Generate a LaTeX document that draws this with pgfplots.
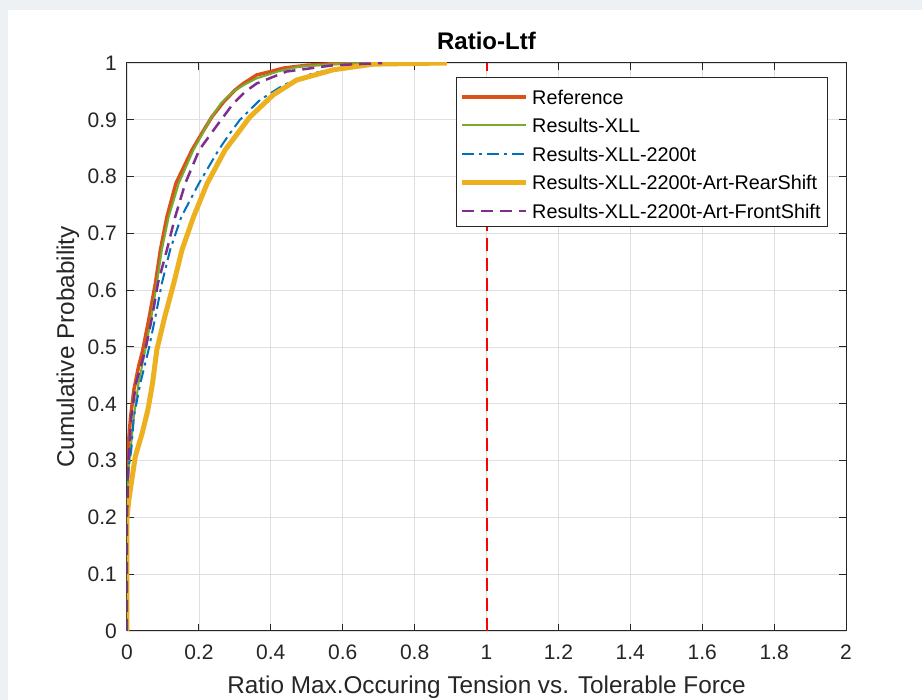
\documentclass[border=0pt]{standalone}
\usepackage{pgfplots}
\pgfplotsset{compat=1.18}
\usepackage{fontspec}
\setmainfont{Liberation Sans}
\definecolor{frame}{RGB}{238,241,243}
\definecolor{axc}{RGB}{38,38,38}
\definecolor{gridc}{RGB}{223,223,223}
\definecolor{cref}{RGB}{217,83,25}
\definecolor{cxll}{RGB}{119,172,48}
\definecolor{cblue}{RGB}{0,114,189}
\definecolor{cyel}{RGB}{237,177,32}
\definecolor{cpur}{RGB}{126,47,142}
\begin{document}
\begin{tikzpicture}[x=1pt,y=1pt]
\fill[frame] (0,0) rectangle (922,700);
\fill[white] (8,0) rectangle (922,690);
\begin{axis}[
  at={(127pt,69pt)}, anchor=south west,
  scale only axis, width=719pt, height=568pt,
  xmin=0, xmax=2, ymin=0, ymax=1,
  xtick={0,0.2,0.4,0.6,0.8,1,1.2,1.4,1.6,1.8,2},
  xticklabels={0,0.2,0.4,0.6,0.8,1,1.2,1.4,1.6,1.8,2},
  ytick={0,0.1,0.2,0.3,0.4,0.5,0.6,0.7,0.8,0.9,1},
  yticklabels={0,0.1,0.2,0.3,0.4,0.5,0.6,0.7,0.8,0.9,1},
  grid=major,
  major grid style={color=gridc, line width=0.8pt},
  axis line style={color=axc, line width=1pt},
  tick style={color=axc, line width=1pt},
  major tick length=7pt,
  tick align=inside,
  tick label style={font=\fontsize{21}{25}\selectfont, text=axc, inner sep=0pt},
  xticklabel style={yshift=-14pt},
  yticklabel style={xshift=-10pt},
  title={\textbf{Ratio-Ltf}},
  title style={at={(axis description cs:0.5,1.014)}, anchor=base, font=\fontsize{24}{28}\selectfont, inner sep=0pt},
  xlabel={Ratio Max.Occuring Tension vs. Tolerable Force},
  ylabel={Cumulative Probability},
  xlabel style={at={(axis description cs:0.5,-0.1109)}, anchor=base, font=\fontsize{24.3}{28}\selectfont, text=axc, inner sep=0pt},
  ylabel style={at={(axis description cs:-0.0737,0.5)}, anchor=base, font=\fontsize{24.3}{28}\selectfont, text=axc, inner sep=0pt},
  legend style={at={(axis description cs:0.975,0.975)}, anchor=north east,
    draw=axc, line width=1pt, fill=white, font=\fontsize{19.8}{23}\selectfont,
    row sep=0pt, inner xsep=3pt, inner ysep=3pt,
    nodes={inner xsep=4pt, inner ysep=2pt, text height=21.5pt, text depth=3pt}},
  legend cell align=left,
  legend image code/.code={\draw[#1] (0pt,-2pt) -- (64pt,-2pt);},
]
\addplot[red, line width=2pt, dash pattern=on 13pt off 7pt, forget plot] coordinates {(1,0) (1,1)};
\addplot[cref, line width=3.5pt] coordinates {
(0,0) (0,0.26) (0.004,0.33) (0.01,0.377) (0.019,0.424) (0.032,0.465) (0.044,0.495) (0.062,0.553) (0.079,0.612) (0.093,0.671) (0.111,0.729) (0.136,0.788) (0.181,0.847) (0.21,0.878) (0.236,0.905) (0.268,0.931) (0.3,0.952) (0.324,0.964) (0.361,0.979) (0.4,0.985) (0.435,0.991) (0.5,0.996) (0.58,0.999) (0.667,1.0)};
\addlegendentry{Reference}
\addplot[cxll, line width=2pt] coordinates {
(0,0) (0,0.25) (0.005,0.29) (0.01,0.319) (0.019,0.377) (0.032,0.436) (0.051,0.495) (0.068,0.553) (0.083,0.612) (0.097,0.671) (0.116,0.729) (0.144,0.788) (0.185,0.847) (0.231,0.9) (0.26,0.928) (0.296,0.95) (0.33,0.963) (0.361,0.973) (0.42,0.985) (0.48,0.994) (0.6,0.999) (0.73,1)};
\addlegendentry{Results-XLL}
\addplot[cblue, line width=2pt, dash pattern=on 12pt off 5pt on 3pt off 5pt] coordinates {
(0,0) (0,0.25) (0.005,0.29) (0.012,0.319) (0.019,0.377) (0.037,0.436) (0.06,0.495) (0.079,0.553) (0.097,0.612) (0.12,0.671) (0.151,0.729) (0.2,0.788) (0.255,0.847) (0.285,0.875) (0.314,0.9) (0.37,0.935) (0.435,0.961) (0.518,0.982) (0.62,0.994) (0.75,0.999) (0.89,1)};
\addlegendentry{Results-XLL-2200t}
\addplot[cyel, line width=5pt] coordinates {
(0,0) (0,0.2) (0.005,0.23) (0.012,0.26) (0.023,0.307) (0.042,0.348) (0.058,0.389) (0.071,0.436) (0.083,0.495) (0.105,0.553) (0.13,0.612) (0.153,0.671) (0.185,0.729) (0.223,0.788) (0.273,0.847) (0.31,0.878) (0.342,0.905) (0.407,0.944) (0.472,0.970) (0.574,0.988) (0.685,0.998) (0.89,1)};
\addlegendentry{Results-XLL-2200t-Art-RearShift}
\addplot[cpur, line width=2.5pt, dash pattern=on 12pt off 7pt] coordinates {
(0,0) (0,0.2) (0.004,0.3) (0.012,0.377) (0.025,0.436) (0.051,0.495) (0.07,0.553) (0.086,0.612) (0.111,0.671) (0.134,0.729) (0.162,0.788) (0.201,0.847) (0.249,0.889) (0.296,0.929) (0.33,0.95) (0.361,0.964) (0.444,0.985) (0.574,0.996) (0.71,1)};
\addlegendentry{Results-XLL-2200t-Art-FrontShift}
\end{axis}
\end{tikzpicture}
\end{document}
